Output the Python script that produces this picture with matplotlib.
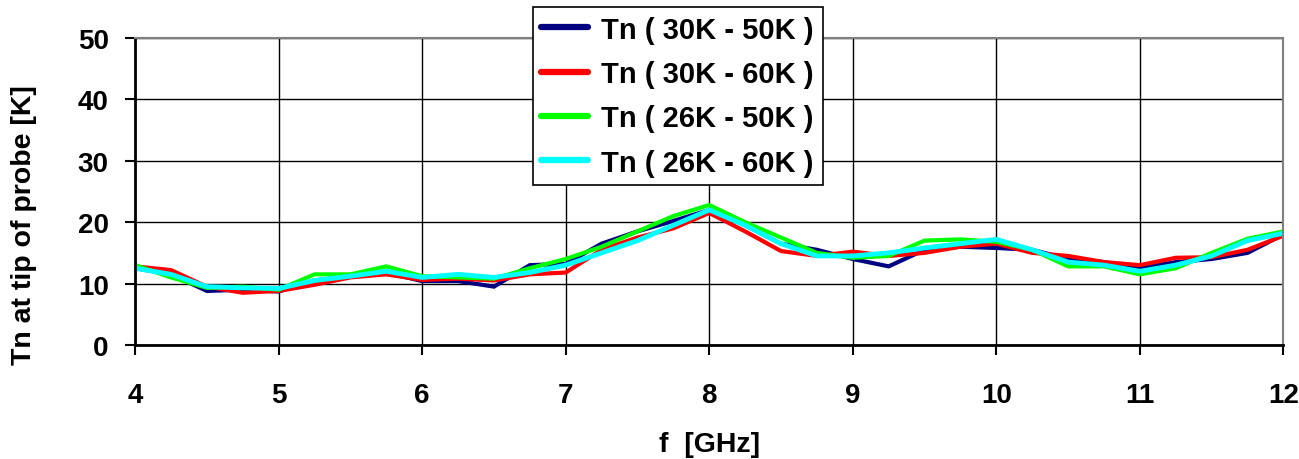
import matplotlib
matplotlib.use("Agg")
import matplotlib.pyplot as plt
import numpy as np

plt.rcParams['font.family'] = ['Liberation Sans', 'DejaVu Sans']
plt.rcParams['font.weight'] = 'bold'

f_ghz = np.arange(4.0, 12.01, 0.25)

tn_30_50 = [12.5, 11.5, 8.8, 9.0, 8.7, 10.5, 11.2, 11.8, 10.4, 10.4, 9.5, 13.0, 13.2,
            16.5, 18.5, 20.2, 22.0, 19.5, 16.5, 15.5, 14.0, 12.8, 15.5, 16.0, 15.8,
            15.5, 14.0, 13.5, 12.5, 13.5, 14.0, 15.0, 18.0]
tn_30_60 = [12.8, 12.2, 9.5, 8.5, 8.8, 9.8, 11.0, 11.5, 10.6, 10.8, 10.5, 11.5, 11.8,
            15.5, 17.5, 19.0, 21.5, 18.5, 15.3, 14.5, 15.2, 14.5, 15.0, 16.0, 16.5,
            15.0, 14.5, 13.5, 13.0, 14.2, 14.3, 15.5, 17.8]
tn_26_50 = [13.0, 11.0, 9.3, 9.5, 9.0, 11.5, 11.5, 12.8, 11.2, 11.0, 10.8, 12.5, 14.0,
            16.0, 18.5, 21.0, 22.8, 20.0, 17.5, 15.0, 14.2, 14.5, 17.0, 17.2, 16.8,
            15.5, 12.8, 12.8, 11.5, 12.5, 15.0, 17.3, 18.5]
tn_26_60 = [12.5, 11.5, 9.5, 9.3, 9.2, 10.5, 11.2, 12.0, 11.0, 11.5, 11.0, 11.8, 13.0,
            15.0, 17.0, 19.5, 22.0, 19.5, 16.5, 14.5, 14.5, 15.0, 15.8, 16.5, 17.2,
            15.5, 13.5, 13.0, 12.0, 13.0, 14.5, 17.0, 18.2]

series = [
    ("Tn ( 30K - 50K )", tn_30_50, "#000080", 3.0),
    ("Tn ( 30K - 60K )", tn_30_60, "#ff0000", 3.0),
    ("Tn ( 26K - 50K )", tn_26_50, "#00ff00", 3.0),
    ("Tn ( 26K - 60K )", tn_26_60, "#00ffff", 3.5),
]

fig = plt.figure(figsize=(12.99, 4.6), dpi=100)
ax = fig.add_axes([0.104, 0.248, 0.884, 0.667])

for label, vals, col, lw in series:
    ax.plot(f_ghz, vals, color=col, lw=lw, label=label, solid_joinstyle='miter')

ax.set_xlim(4, 12)
ax.set_ylim(0, 50)
ax.set_xticks(range(4, 13))
ax.set_yticks(range(0, 51, 10))
ax.grid(True, color='black', lw=1.0)
ax.set_axisbelow(True)
for s in ['top', 'right']:
    ax.spines[s].set_color('#808080')
    ax.spines[s].set_linewidth(1.5)
for s in ['left', 'bottom']:
    ax.spines[s].set_linewidth(2)
ax.tick_params(axis='both', labelsize=20, direction='out', length=7, width=1.5)
ax.tick_params(axis='x', pad=20)
ax.tick_params(axis='y', pad=12)

ax.set_xlabel("f  [GHz]", fontsize=20.5, fontweight='bold')
ax.set_ylabel("Tn at tip of probe [K]", fontsize=20.5, fontweight='bold')
ax.xaxis.set_label_coords(0.5, -0.28)
ax.yaxis.set_label_coords(-0.0854, 0.394)

leg = fig.legend(loc='upper left', bbox_to_anchor=(0.41, 0.983), fontsize=21,
                 frameon=True, fancybox=False, edgecolor='black', framealpha=1,
                 handlelength=1.6, handletextpad=0.45, borderpad=0.3,
                 labelspacing=0.56, borderaxespad=0)
leg.get_frame().set_linewidth(1.2)
for h in leg.get_lines():
    h.set_linewidth(4.5)
    h.set_solid_capstyle('round')

fig.savefig("out.png", dpi=100)
